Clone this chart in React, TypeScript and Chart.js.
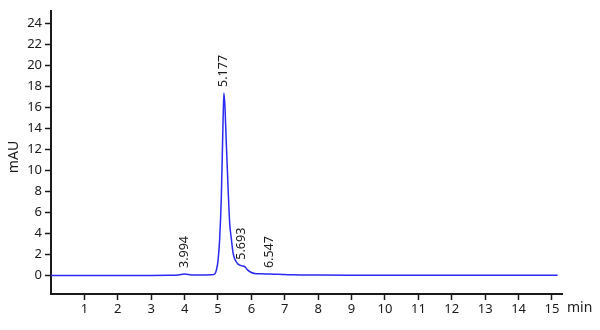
import React, { useEffect, useRef } from "react";
import { Chart, registerables } from "chart.js";

Chart.register(...registerables);

const times = [0, 0.5, 1, 1.5, 2, 2.5, 3, 3.5, 3.8, 3.9, 3.994, 4.1, 4.2, 4.5, 4.8, 4.9, 4.95, 5.0, 5.05, 5.1, 5.15, 5.177, 5.21, 5.25, 5.3, 5.35, 5.4, 5.45, 5.5, 5.55, 5.6, 5.693, 5.8, 5.9, 6.0, 6.1, 6.2, 6.3, 6.547, 6.8, 7.0, 7.2, 7.5, 8, 9, 10, 11, 12, 13, 14, 15, 15.17];
const signal = [0, 0, 0.01, 0.01, 0.02, 0.02, 0.02, 0.03, 0.06, 0.1, 0.16, 0.11, 0.07, 0.06, 0.08, 0.15, 0.5, 1.4, 3.5, 7.5, 14.5, 17.4, 16.0, 12.5, 8.5, 5.0, 3.5, 2.2, 1.6, 1.3, 1.1, 0.95, 0.85, 0.5, 0.3, 0.2, 0.18, 0.17, 0.15, 0.12, 0.1, 0.08, 0.06, 0.05, 0.04, 0.04, 0.04, 0.03, 0.03, 0.03, 0.03, 0.03];

const peakTimes = [3.994, 5.177, 5.693, 6.547];
const peakHeights = [0.16, 17.4, 0.95, 0.15];
const peakLabels = ["3.994", "5.177", "5.693", "6.547"];

const xTicks = [1, 2, 3, 4, 5, 6, 7, 8, 9, 10, 11, 12, 13, 14, 15];
const yTicks = [0, 2, 4, 6, 8, 10, 12, 14, 16, 18, 20, 22, 24];

const FONT = "'Noto Sans', sans-serif";
const INK = "#1a1a1a";

const annotPlugin = {
  id: "annot",
  afterDatasetsDraw(chart: any) {
    const ctx = chart.ctx;
    const xs = chart.scales.x;
    const ys = chart.scales.y;
    ctx.save();
    ctx.fillStyle = INK;
    ctx.font = `12.5px ${FONT}`;
    peakTimes.forEach((t, i) => {
      const px = xs.getPixelForValue(t);
      const py = ys.getPixelForValue(peakHeights[i]) - 6;
      ctx.save();
      ctx.translate(px, py);
      ctx.rotate(-Math.PI / 2);
      ctx.textAlign = "left";
      ctx.textBaseline = "middle";
      ctx.fillText(peakLabels[i], 0, 0);
      ctx.restore();
    });
    // axis titles
    ctx.font = `14px ${FONT}`;
    ctx.textAlign = "left";
    ctx.textBaseline = "middle";
    ctx.fillText("min", chart.chartArea.right + 5, chart.chartArea.bottom + 14);
    ctx.save();
    ctx.translate(14, 157);
    ctx.rotate(-Math.PI / 2);
    ctx.textAlign = "center";
    ctx.fillText("mAU", 0, 0);
    ctx.restore();
    ctx.restore();
  },
};

export default function App() {
  const ref = useRef<HTMLCanvasElement | null>(null);
  useEffect(() => {
    if (!ref.current) return;
    const chart = new Chart(ref.current, {
      type: "line",
      data: {
        datasets: [
          {
            data: times.map((t, i) => ({ x: t, y: signal[i] })),
            borderColor: "#2a2af2",
            borderWidth: 1.5,
            pointRadius: 0,
            cubicInterpolationMode: "monotone",
            fill: false,
          },
        ],
      },
      options: {
        responsive: false,
        animation: false,
        layout: { padding: { left: 0, top: 11, right: 38, bottom: 0 } },
        plugins: { legend: { display: false }, tooltip: { enabled: false } },
        scales: {
          x: {
            type: "linear",
            min: 0,
            max: 15.3,
            afterBuildTicks: (s: any) => {
              s.ticks = xTicks.map((v) => ({ value: v }));
            },
            afterFit: (s: any) => {
              s.height = 36;
            },
            grid: { drawOnChartArea: false, tickLength: 6, color: INK, tickWidth: 1.5 },
            border: { color: INK, width: 2 },
            ticks: { color: INK, font: { family: FONT, size: 13 }, padding: 1, maxRotation: 0, autoSkip: false },
          },
          y: {
            type: "linear",
            min: -1.75,
            max: 25.2,
            afterBuildTicks: (s: any) => {
              s.ticks = yTicks.map((v) => ({ value: v }));
            },
            afterFit: (s: any) => {
              s.width = 51;
            },
            grid: { drawOnChartArea: false, tickLength: 6, color: INK, tickWidth: 1.5 },
            border: { color: INK, width: 2 },
            ticks: { color: INK, font: { family: FONT, size: 13 }, padding: 3, autoSkip: false },
          },
        },
      },
      plugins: [annotPlugin],
    } as any);
    return () => chart.destroy();
  }, []);
  return (
    <div style={{ position: "absolute", left: 0, top: 0, width: 600, height: 330 }}>
      <canvas ref={ref} width={600} height={330} />
    </div>
  );
}
